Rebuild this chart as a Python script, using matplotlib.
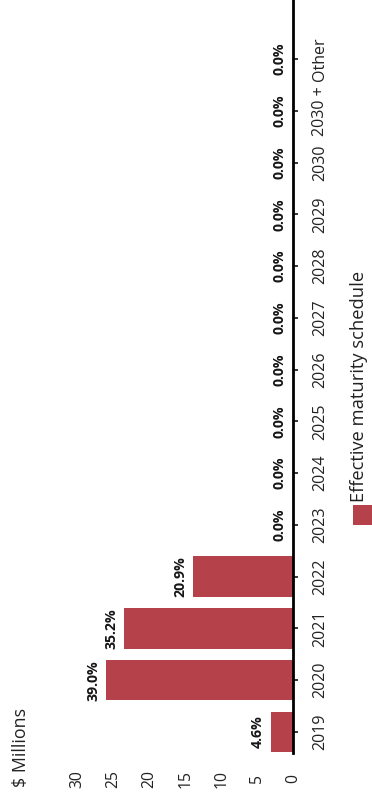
import matplotlib
matplotlib.use("Agg")
import matplotlib.pyplot as plt
from matplotlib.patches import Rectangle

categories = ["2019", "2020", "2021", "2022", "2023", "2024", "2025", "2026",
              "2027", "2028", "2029", "2030", "2030 +", "Other"]
values = [3.1, 26.0, 23.5, 13.9, 0, 0, 0, 0, 0, 0, 0, 0, 0, 0]
pct_labels = ["4.6%", "39.0%", "35.2%", "20.9%", "0.0%", "0.0%", "0.0%", "0.0%",
              "0.0%", "0.0%", "0.0%", "0.0%", "0.0%", "0.0%"]
value_ticks = [0, 5, 10, 15, 20, 25, 30]
axis_title = "$ Millions"
series_name = "Effective maturity schedule"

BAR_COLOR = "#B5414B"
W, H = 372, 799
plt.rcParams['font.family'] = ['Open Sans', 'DejaVu Sans']

fig = plt.figure(figsize=(W / 100, H / 100), dpi=100)
# axes: value 0 at x=293px, 7.18 px per unit; categories spaced ~51.8px
xmax = 35
px_per_unit = 7.18
ax_w = xmax * px_per_unit
ax = fig.add_axes([(293 - ax_w) / W, 46 / H, ax_w / W, 753 / H])

pos = list(range(len(categories)))
ax.barh(pos, values, height=0.78, color=BAR_COLOR)
ax.set_xlim(xmax, 0)
ax.set_ylim(-0.406, 14.14)

for p, v, lab in zip(pos, values, pct_labels):
    ax.annotate(lab, xy=(v, p), xytext=(-9.5, 0), textcoords='offset points',
                rotation=90, ha='center', va='center', fontsize=10.2,
                fontweight='bold', color='#151515')

for s in ['top', 'left', 'bottom']:
    ax.spines[s].set_visible(False)
ax.spines['right'].set_linewidth(2.0)
ax.spines['right'].set_color('black')

ax.yaxis.tick_right()
ax.set_yticks(pos)
ax.set_yticklabels(categories, rotation=90, ha='center', va='center',
                   fontsize=11.5, color='#222222')
ax.tick_params(axis='y', direction='out', length=3.6, width=1.1, pad=16,
               colors='black', labelcolor='#222222')

ax.set_xticks(value_ticks)
ax.set_xticklabels([str(t) for t in value_ticks], rotation=90, ha='center',
                   va='center', fontsize=11.3, color='#222222')
ax.tick_params(axis='x', length=0, pad=18.7)

fig.text(21 / W, 1 - 787 / H, axis_title, rotation=90, ha='center', va='bottom',
         fontsize=12.8, color='#222222')

# legend (rotated)
fig.add_artist(Rectangle((353 / W, 1 - 525 / H), 20 / W, 20 / H,
                         transform=fig.transFigure, color=BAR_COLOR, lw=0))
fig.text(359.5 / W, 1 - 502 / H, series_name, rotation=90, ha='center', va='bottom',
         fontsize=13.2, color='#222222')

fig.savefig("out.png", dpi=100)
